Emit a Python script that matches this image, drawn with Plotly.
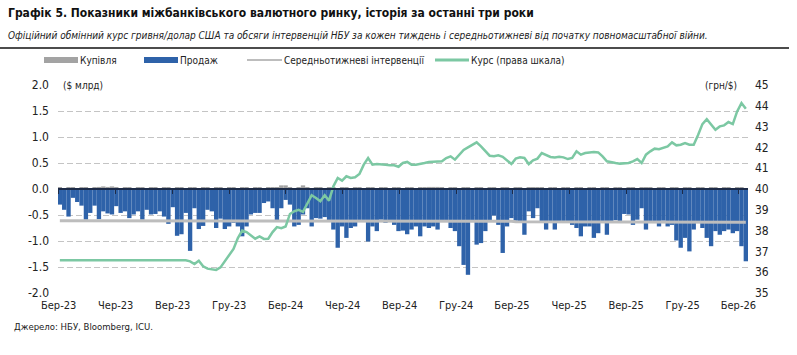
import plotly.graph_objects as go
import pandas as pd

# ---------------- data ----------------
week_start = "2023-03-03"
n_weeks = 159
weeks = pd.date_range(week_start, periods=n_weeks, freq="7D")

# NBU FX sales per week, $ bn (negative)
sell = [
    -0.30, -0.40, -0.53, -0.17, -0.25, -0.32, -0.59, -0.46, -0.32, -0.58,
    -0.43, -0.47, -0.49, -0.33, -0.46, -0.43, -0.56, -0.49, -0.43, -0.59,
    -0.40, -0.49, -0.48, -0.43, -0.53, -0.67, -0.35, -0.90, -0.87, -0.46,
    -1.19, -0.37, -0.77, -0.71, -0.40, -0.43, -0.75, -0.57, -0.77, -0.72,
    -0.65, -0.72, -0.91, -0.72, -0.49, -0.46, -0.46, -0.27, -0.24, -0.37,
    -0.61, -0.37, -0.21, -0.30, -0.72, -0.69, -0.49, -0.37, -0.72, -0.56,
    -0.57, -0.54, -0.62, -0.78, -1.13, -0.72, -0.94, -0.75, -0.72, -0.62,
    -0.61, -1.01, -0.72, -0.81, -0.59, -0.65, -0.62, -0.69, -0.81, -0.80,
    -0.87, -0.78, -0.72, -0.91, -0.72, -0.75, -0.72, -0.78, -0.62, -0.62,
    -0.75, -0.81, -1.10, -1.46, -1.65, -0.62, -1.07, -1.04, -0.81, -0.61,
    -0.51, -0.69, -1.23, -0.72, -0.56, -0.61, -0.65, -0.88, -0.43, -0.56,
    -0.37, -0.62, -0.78, -0.62, -0.78, -0.65, -0.65, -0.65, -0.69, -0.75,
    -0.91, -0.72, -0.72, -0.94, -0.85, -0.65, -0.88, -0.65, -0.60, -0.62,
    -0.48, -0.49, -0.69, -0.59, -0.37, -0.78, -0.65, -0.65, -0.72, -0.61,
    -0.72, -0.69, -0.99, -1.13, -0.94, -1.20, -0.78, -0.65, -0.75, -0.94,
    -1.10, -0.81, -0.88, -0.81, -0.78, -0.85, -0.81, -1.10, -1.39,
]

# NBU FX purchases per week, $ bn (small positive)
buy = [
    0.02, 0.01, 0.02, 0.02, 0.01, 0.02, 0.02, 0.01, 0.02, 0.04,
    0.05, 0.04, 0.05, 0.02, 0.01, 0.02, 0.02, 0.01, 0.02, 0.02,
    0.01, 0.02, 0.02, 0.01, 0.02, 0.02, 0.01, 0.02, 0.02, 0.01,
    0.02, 0.02, 0.01, 0.02, 0.02, 0.01, 0.02, 0.02, 0.01, 0.02,
    0.02, 0.01, 0.02, 0.02, 0.01, 0.02, 0.02, 0.01, 0.02, 0.02,
    0.03, 0.07, 0.07, 0.02, 0.01, 0.02, 0.07, 0.02, 0.01, 0.02,
    0.02, 0.01, 0.02, 0.02, 0.01, 0.02, 0.02, 0.01, 0.02, 0.02,
    0.01, 0.02, 0.02, 0.01, 0.02, 0.02, 0.01, 0.02, 0.02, 0.01,
    0.02, 0.02, 0.01, 0.02, 0.02, 0.04, 0.04, 0.04, 0.02, 0.01,
    0.02, 0.02, 0.01, 0.02, 0.02, 0.01, 0.02, 0.02, 0.01, 0.02,
    0.02, 0.01, 0.02, 0.02, 0.01, 0.02, 0.02, 0.01, 0.02, 0.03,
    0.03, 0.02, 0.01, 0.02, 0.02, 0.01, 0.02, 0.02, 0.01, 0.02,
    0.02, 0.01, 0.02, 0.02, 0.01, 0.02, 0.02, 0.01, 0.02, 0.02,
    0.01, 0.02, 0.02, 0.01, 0.03, 0.03, 0.02, 0.01, 0.02, 0.02,
    0.01, 0.02, 0.02, 0.01, 0.02, 0.02, 0.01, 0.02, 0.02, 0.01,
    0.02, 0.02, 0.01, 0.02, 0.02, 0.01, 0.02, 0.02, 0.01,
]

# Average weekly interventions since the start of the full-scale war, $ bn
avg_interv = [
    -0.61, -0.61, -0.61, -0.61, -0.61, -0.61, -0.61, -0.61, -0.61, -0.61,
    -0.61, -0.61, -0.61, -0.61, -0.61, -0.61, -0.61, -0.61, -0.61, -0.61,
    -0.61, -0.61, -0.61, -0.61, -0.61, -0.61, -0.61, -0.61, -0.61, -0.61,
    -0.61, -0.61, -0.61, -0.61, -0.61, -0.61, -0.61, -0.61, -0.61, -0.61,
    -0.62, -0.62, -0.62, -0.62, -0.62, -0.62, -0.62, -0.62, -0.62, -0.62,
    -0.62, -0.62, -0.62, -0.62, -0.62, -0.62, -0.62, -0.62, -0.62, -0.62,
    -0.62, -0.62, -0.62, -0.62, -0.62, -0.62, -0.62, -0.62, -0.62, -0.62,
    -0.62, -0.62, -0.62, -0.62, -0.62, -0.62, -0.62, -0.62, -0.62, -0.62,
    -0.62, -0.62, -0.62, -0.62, -0.62, -0.62, -0.62, -0.62, -0.62, -0.62,
    -0.62, -0.62, -0.62, -0.62, -0.62, -0.62, -0.62, -0.62, -0.62, -0.62,
    -0.62, -0.62, -0.62, -0.62, -0.62, -0.63, -0.63, -0.63, -0.64, -0.64,
    -0.64, -0.64, -0.64, -0.64, -0.64, -0.64, -0.64, -0.64, -0.64, -0.64,
    -0.64, -0.64, -0.64, -0.64, -0.64, -0.64, -0.64, -0.64, -0.64, -0.64,
    -0.64, -0.64, -0.64, -0.64, -0.64, -0.64, -0.64, -0.64, -0.64, -0.64,
    -0.64, -0.64, -0.64, -0.64, -0.64, -0.64, -0.64, -0.64, -0.64, -0.64,
    -0.64, -0.64, -0.64, -0.64, -0.64, -0.64, -0.64, -0.64, -0.64,
]

# Official UAH/USD rate (right axis)
rate = [
    36.57, 36.57, 36.57, 36.57, 36.57, 36.57, 36.57, 36.57, 36.57, 36.57,
    36.57, 36.57, 36.57, 36.57, 36.57, 36.57, 36.57, 36.57, 36.57, 36.57,
    36.57, 36.57, 36.57, 36.57, 36.57, 36.57, 36.57, 36.57, 36.57, 36.57,
    36.52, 36.39, 36.55, 36.28, 36.17, 36.14, 36.11, 36.23, 36.52, 36.86,
    37.12, 37.64, 38.00, 37.93, 37.77, 37.61, 37.72, 37.60, 37.61, 37.93,
    38.17, 38.12, 38.20, 38.80, 38.93, 39.00, 38.90, 39.33, 39.70, 39.57,
    39.41, 39.70, 39.44, 40.13, 40.53, 40.40, 40.61, 40.53, 40.56, 40.72,
    41.17, 41.49, 41.17, 41.20, 41.20, 41.17, 41.14, 41.14, 41.07, 41.25,
    41.30, 41.17, 41.17, 41.20, 41.25, 41.30, 41.30, 41.30, 41.33, 41.49,
    41.57, 41.41, 41.62, 41.88, 42.00, 42.13, 42.24, 42.05, 41.84, 41.60,
    41.57, 41.62, 41.55, 41.36, 41.20, 41.46, 41.52, 41.49, 41.20, 41.38,
    41.46, 41.73, 41.65, 41.54, 41.52, 41.55, 41.52, 41.44, 41.49, 41.81,
    41.65, 41.73, 41.76, 41.78, 41.76, 41.57, 41.33, 41.28, 41.25, 41.22,
    41.22, 41.25, 41.33, 41.44, 41.25, 41.65, 41.81, 41.94, 41.91, 41.97,
    42.05, 42.24, 42.10, 42.13, 42.21, 42.13, 42.13, 42.60, 43.12, 43.36,
    43.10, 42.85, 43.01, 43.06, 43.22, 43.12, 43.73, 44.13, 43.86,
]

tick_dates = [
    "2023-03-01", "2023-06-01", "2023-09-01", "2023-12-01",
    "2024-03-01", "2024-06-01", "2024-09-01", "2024-12-01",
    "2025-03-01", "2025-06-01", "2025-09-01", "2025-12-01", "2026-03-01",
]
tick_labels = [
    "Бер-23", "Чер-23", "Вер-23", "Гру-23",
    "Бер-24", "Чер-24", "Вер-24", "Гру-24",
    "Бер-25", "Чер-25", "Вер-25", "Гру-25", "Бер-26",
]
left_ticks = [-2.0, -1.5, -1.0, -0.5, 0.0, 0.5, 1.0, 1.5, 2.0]
left_tick_labels = ["-2.0", "-1.5", "-1.0", "-0.5", "0.0", "0.5", "1.0", "1.5", "2.0"]
right_ticks = [35, 36, 37, 38, 39, 40, 41, 42, 43, 44, 45]

# ---------------- style ----------------
BLUE = "#2e62a9"
GREY_BAR = "#a3a3a3"
AVG = "#bdbdbd"
GREEN = "#7cc8a3"
DARK = "#1d2b48"
TXT = "#222222"
FONT = "Liberation Sans Narrow, Arial Narrow, DejaVu Sans Condensed, sans-serif"

W, H = 797, 355
L, R, T, B = 58, 49, 85, 62
PW, PH = W - L - R, H - T - B


def px(x):
    return (x - L) / PW


def py(y):
    return (H - B - y) / PH


WEEK_MS = 7 * 24 * 3600 * 1000

fig = go.Figure()
fig.add_bar(x=weeks, y=buy, width=WEEK_MS, marker=dict(color=GREY_BAR, line=dict(width=0)),
            name="Купівля", showlegend=False)
fig.add_bar(x=weeks, y=sell, width=WEEK_MS, marker=dict(color=BLUE, line=dict(width=0)),
            name="Продаж", showlegend=False)
fig.add_scatter(x=weeks, y=avg_interv, mode="lines", line=dict(color=AVG, width=3),
                name="Середньотижневі інтервенції", showlegend=False)
fig.add_scatter(x=weeks, y=rate, yaxis="y2", mode="lines", line=dict(color=GREEN, width=2.5),
                name="Курс (права шкала)", showlegend=False)
# helper trace so that the zero-level axis (x2) with quarter tick marks is drawn
fig.add_scatter(x=weeks[:1], y=[None], xaxis="x2", mode="lines", showlegend=False,
                hoverinfo="skip")

anns = []
shapes = []

# title / subtitle
anns.append(dict(text="<b>Графік 5. Показники міжбанківського валютного ринку, історія за останні три роки</b>",
                 x=px(6), y=py(13), xref="paper", yref="paper", xanchor="left", yanchor="middle",
                 showarrow=False, font=dict(family=FONT, size=12, color="#111")))
anns.append(dict(text="<i>Офіційний обмінний курс гривня/долар США та обсяги інтервенцій НБУ за кожен тиждень і середньотижневі від початку повномасштабної війни.</i>",
                 x=px(6), y=py(36), xref="paper", yref="paper", xanchor="left", yanchor="middle",
                 showarrow=False, font=dict(family=FONT, size=10, color="#222")))
shapes.append(dict(type="line", xref="paper", yref="paper", x0=px(0), x1=px(789),
                   y0=py(48), y1=py(48), line=dict(color="#111", width=1.5)))

# manual legend
LEG_Y = 60
shapes.append(dict(type="rect", xref="paper", yref="paper", x0=px(44), x1=px(78),
                   y0=py(LEG_Y - 3), y1=py(LEG_Y + 3), fillcolor=GREY_BAR, line=dict(width=0)))
shapes.append(dict(type="rect", xref="paper", yref="paper", x0=px(144), x1=px(178),
                   y0=py(LEG_Y - 3), y1=py(LEG_Y + 3), fillcolor=BLUE, line=dict(width=0)))
shapes.append(dict(type="line", xref="paper", yref="paper", x0=px(247), x1=px(282),
                   y0=py(LEG_Y), y1=py(LEG_Y), line=dict(color=AVG, width=2)))
shapes.append(dict(type="line", xref="paper", yref="paper", x0=px(435), x1=px(469),
                   y0=py(LEG_Y), y1=py(LEG_Y), line=dict(color=GREEN, width=3)))
for lbl, xx in [("Купівля", 78), ("Продаж", 178), ("Середньотижневі інтервенції", 282),
                ("Курс (права шкала)", 469)]:
    anns.append(dict(text=lbl, x=px(xx), y=py(LEG_Y), xref="paper", yref="paper",
                     xanchor="left", yanchor="middle", showarrow=False,
                     font=dict(family=FONT, size=10, color=TXT)))

# axis unit labels
anns.append(dict(text="($ млрд)", x=px(61), y=1.0, xref="paper", yref="paper",
                 xanchor="left", yanchor="middle", showarrow=False, bgcolor="white",
                 font=dict(family=FONT, size=10, color=TXT)))
anns.append(dict(text="(грн/$)", x=px(739), y=1.0, xref="paper", yref="paper",
                 xanchor="right", yanchor="middle", showarrow=False, bgcolor="white",
                 font=dict(family=FONT, size=10, color=TXT)))

# source
anns.append(dict(text="Джерело: НБУ, Bloomberg, ICU.", x=px(12), y=py(326), xref="paper",
                 yref="paper", xanchor="left", yanchor="middle", showarrow=False,
                 font=dict(family=FONT, size=9.5, color=TXT)))

fig.update_layout(
    width=W, height=H,
    margin=dict(l=L, r=R, t=T, b=B, pad=0),
    paper_bgcolor="white", plot_bgcolor="white",
    barmode="overlay",
    showlegend=False,
    hovermode=False,
    font=dict(family=FONT, size=12, color=TXT),
    annotations=anns,
    shapes=shapes,
    xaxis=dict(
        type="date",
        range=["2023-02-28", "2026-03-16 12:00"],
        tickvals=tick_dates, ticktext=tick_labels,
        showgrid=False, showline=False, zeroline=False, ticks="",
        ticklabelstandoff=4,
        tickfont=dict(family=FONT, size=11, color=TXT),
    ),
    xaxis2=dict(
        type="date", overlaying="x", matches="x", anchor="free", position=0.5,
        showline=True, linecolor=DARK, linewidth=1.5,
        ticks="outside", ticklen=4, tickwidth=1, tickcolor=DARK,
        tickvals=tick_dates, showticklabels=False, showgrid=False, zeroline=False,
    ),
    yaxis=dict(
        range=[-2, 2], tickvals=left_ticks, ticktext=left_tick_labels,
        showgrid=True, gridcolor="#c4c4c4", griddash="6px,3px", gridwidth=1,
        zeroline=False, showline=False, ticks="", ticklabelstandoff=8,
        tickfont=dict(family=FONT, size=12, color=TXT),
    ),
    yaxis2=dict(
        overlaying="y", side="right", range=[35, 45], tickvals=right_ticks,
        showgrid=False, zeroline=False, showline=False, ticks="", ticklabelstandoff=6,
        tickfont=dict(family=FONT, size=12, color=TXT),
    ),
)

fig.write_html("out.html", config={"displayModeBar": False},
               post_script="document.body.style.margin='0';")
